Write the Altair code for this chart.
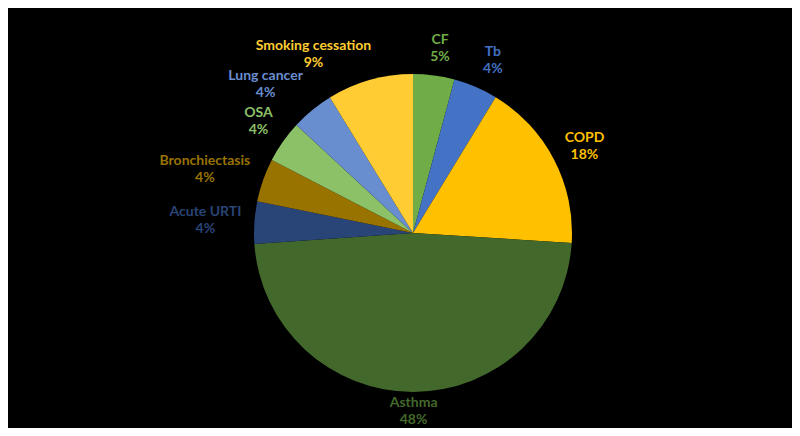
import altair as alt
import pandas as pd

categories = ["CF", "Tb", "COPD", "Asthma", "Acute URTI", "Bronchiectasis",
              "OSA", "Lung cancer", "Smoking cessation"]
shares = [4.2, 4.5, 17.3, 47.9, 4.3, 4.4, 4.3, 4.35, 8.75]
pct_labels = ["5%", "4%", "18%", "48%", "4%", "4%", "4%", "4%", "9%"]
colors = ["#70AD47", "#4472C4", "#FFC000", "#43682B", "#294476", "#997300",
          "#8DC168", "#698ED0", "#FFCD33"]

# label nudges (px) relative to the mid-angle anchor
nudges = {"CF": (2, 4), "Tb": (5, 2), "COPD": (3, 1), "Asthma": (0, -11),
          "Acute URTI": (-18, 0), "Bronchiectasis": (-29, 0), "OSA": (1, -2),
          "Lung cancer": (-27, -2), "Smoking cessation": (-48, 4)}
LINE_SHIFT = -8.5  # centre the two-line block on its anchor

df = pd.DataFrame({"idx": list(range(len(categories))), "cat": categories,
                   "share": shares, "pct": pct_labels})
total = sum(shares)

CX, CY, R = 405, 225, 159
color_scale = alt.Scale(domain=categories, range=colors)
theta_scale = alt.Scale(domain=[0, total])

base = alt.Chart(df)

arcs = base.mark_arc(outerRadius=R).encode(
    theta=alt.Theta("share:Q", stack=True, scale=theta_scale),
    order=alt.Order("idx:Q"),
    color=alt.Color("cat:N", scale=color_scale, legend=None),
    x=alt.value(CX), y=alt.value(CY),
)

lab = base.transform_window(
    cum="sum(share)", sort=[alt.SortField("idx")], frame=[None, 0]
).transform_calculate(
    mid="datum.cum - datum.share / 2",
    label="datum.cat + '\\n' + datum.pct",
)

layers = [arcs]
for c in categories:
    dx, dy = nudges[c]
    layers.append(
        lab.transform_filter(alt.datum.cat == c).mark_text(
            font="Lato", fontWeight="bold", fontSize=14, lineBreak="\n",
            lineHeight=17, align="center", baseline="middle",
            dx=dx, dy=dy + LINE_SHIFT,
        ).encode(
            theta=alt.Theta("mid:Q", stack=None, scale=theta_scale),
            radius=alt.value(190),
            text="label:N",
            color=alt.Color("cat:N", scale=color_scale, legend=None),
            x=alt.value(CX), y=alt.value(CY),
        )
    )

chart = alt.layer(*layers).properties(
    width=784, height=420, background="black",
    autosize=alt.AutoSizeParams(type="none"), padding=0,
).configure_view(stroke=None)

chart.save("out.html", embed_options={"renderer": "svg", "actions": False})
